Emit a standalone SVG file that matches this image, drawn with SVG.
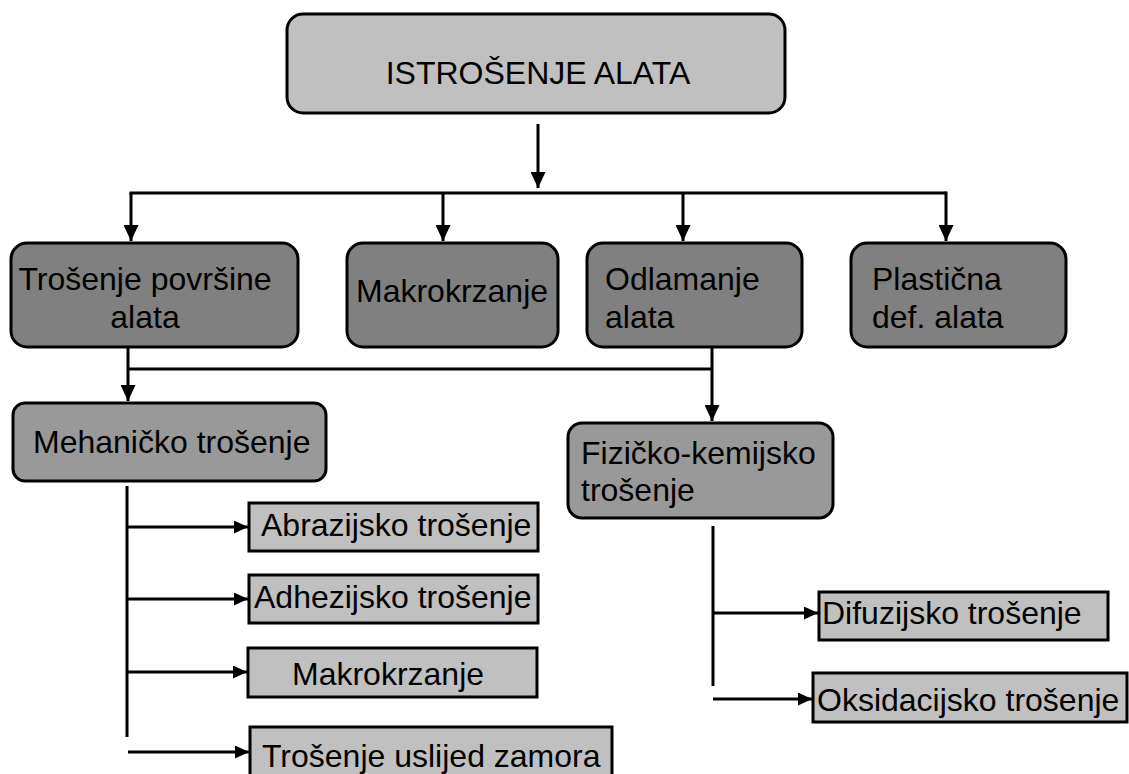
<svg xmlns="http://www.w3.org/2000/svg" width="1129" height="774" viewBox="0 0 1129 774">
<defs>
<style>
text{font-family:"Liberation Sans",Arial,sans-serif;font-size:32px;fill:#000}
.r{stroke:#000;stroke-width:3}
.top{fill:#c0c0c0}
.dk{fill:#808080}
.md{fill:#999999}
.lf{fill:#c0c0c0}
.c{fill:none;stroke:#000;stroke-width:3}
</style>
<marker id="a" markerUnits="userSpaceOnUse" markerWidth="16" markerHeight="15" refX="16" refY="7.5" orient="auto"><path d="M0,0 L16,7.5 L0,15 Z" fill="#000"/></marker>
<marker id="b" markerUnits="userSpaceOnUse" markerWidth="14" markerHeight="13" refX="14" refY="6.5" orient="auto"><path d="M0,0 L14,6.5 L0,13 Z" fill="#000"/></marker>
</defs>
<rect width="1129" height="774" fill="#fff"/>
<g id="connectors">
<path class="c" d="M538,124 V188" marker-end="url(#a)"/>
<path class="c" d="M129.5,193 H946"/>
<path class="c" d="M131,193 V241" marker-end="url(#a)"/>
<path class="c" d="M443,193 V241" marker-end="url(#a)"/>
<path class="c" d="M683,193 V241" marker-end="url(#a)"/>
<path class="c" d="M946,191.5 V241" marker-end="url(#a)"/>
<path class="c" d="M128,347 V401" marker-end="url(#a)"/>
<path class="c" d="M128,369 H712"/>
<path class="c" d="M712,347 V421" marker-end="url(#a)"/>
<path class="c" d="M127,486 V737"/>
<path class="c" d="M127,527 H248" marker-end="url(#b)"/>
<path class="c" d="M127,599 H248" marker-end="url(#b)"/>
<path class="c" d="M127,672 H247" marker-end="url(#b)"/>
<path class="c" d="M128,752 H249" marker-end="url(#b)"/>
<path class="c" d="M713,526 V686"/>
<path class="c" d="M713,613 H818" marker-end="url(#b)"/>
<path class="c" d="M713,699 H812" marker-end="url(#b)"/>
</g>
<g id="n-istrosenje">
<rect class="r top" x="287" y="14" width="498" height="99" rx="16"/>
<text x="538" y="84" text-anchor="middle">ISTROŠENJE ALATA</text>
</g>
<g id="n-trosenje-povrsine">
<rect class="r dk" x="11" y="243" width="287" height="104" rx="16"/>
<text x="145" y="290" text-anchor="middle">Trošenje površine</text>
<text x="145" y="328" text-anchor="middle">alata</text>
</g>
<g id="n-makrokrzanje-1">
<rect class="r dk" x="347" y="243" width="211" height="104" rx="16"/>
<text x="356" y="302">Makrokrzanje</text>
</g>
<g id="n-odlamanje">
<rect class="r dk" x="587" y="243" width="215" height="104" rx="16"/>
<text x="605" y="290">Odlamanje</text>
<text x="605" y="328">alata</text>
</g>
<g id="n-plasticna">
<rect class="r dk" x="851" y="243" width="215" height="104" rx="16"/>
<text x="872" y="290">Plastična</text>
<text x="872" y="328">def. alata</text>
</g>
<g id="n-mehanicko">
<rect class="r md" x="13" y="403" width="313" height="78" rx="12"/>
<text x="33" y="453">Mehaničko trošenje</text>
</g>
<g id="n-fizicko">
<rect class="r md" x="568" y="423" width="265" height="95" rx="14"/>
<text x="581" y="464">Fizičko-kemijsko</text>
<text x="581" y="501">trošenje</text>
</g>
<g id="n-abrazijsko">
<rect class="r lf" x="249" y="503" width="289" height="48"/>
<text x="261" y="536">Abrazijsko trošenje</text>
</g>
<g id="n-adhezijsko">
<rect class="r lf" x="249" y="575" width="289" height="48"/>
<text x="254" y="608">Adhezijsko trošenje</text>
</g>
<g id="n-makrokrzanje-2">
<rect class="r lf" x="248" y="648" width="289" height="49"/>
<text x="292" y="685">Makrokrzanje</text>
</g>
<g id="n-zamor">
<rect class="r lf" x="250" y="727" width="362" height="60"/>
<text x="262" y="767">Trošenje uslijed zamora</text>
</g>
<g id="n-difuzijsko">
<rect class="r lf" x="819" y="592" width="289" height="48"/>
<text x="822" y="624">Difuzijsko trošenje</text>
</g>
<g id="n-oksidacijsko">
<rect class="r lf" x="813" y="673" width="314" height="49"/>
<text x="817" y="711">Oksidacijsko trošenje</text>
</g>
</svg>
